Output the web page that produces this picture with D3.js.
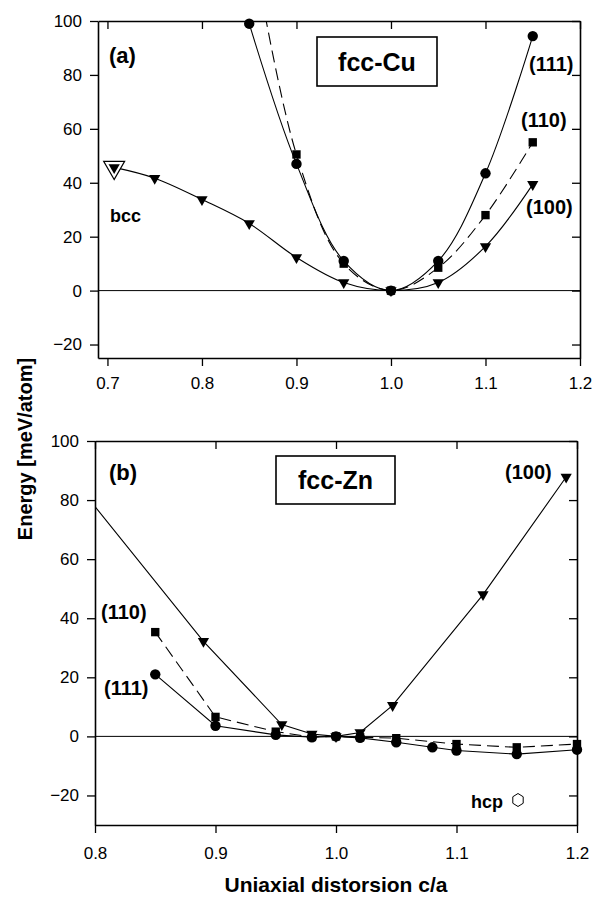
<!DOCTYPE html>
<html>
<head>
<meta charset="utf-8">
<script src="https://cdn.jsdelivr.net/npm/d3@7"></script>
<style>
  body { margin: 0; background: #fff; }
  text { font-family: "Liberation Sans", Arial, sans-serif; }
</style>
</head>
<body>
<div id="chart"></div>
<script>
var W = 594, H = 897;

// panel (a): fcc-Cu
var cuX111 = [0.85, 0.9, 0.95, 1.0, 1.05, 1.1, 1.15];
var cuY111 = [99, 47, 11, 0, 11, 43.5, 94.4];
var cuX110 = [0.85, 0.9, 0.95, 1.0, 1.05, 1.1, 1.15];
var cuY110 = [135, 50.5, 10, 0, 8.5, 28, 55];
var cuX100 = [0.7071, 0.75, 0.8, 0.85, 0.9, 0.95, 1.0, 1.05, 1.1, 1.15];
var cuY100 = [45.7, 41.7, 33.8, 24.9, 12.3, 3, 0, 3, 16.4, 39.4];

// panel (b): fcc-Zn
var znX111 = [0.85, 0.9, 0.95, 0.98, 1.0, 1.02, 1.05, 1.08, 1.1, 1.15, 1.2];
var znY111 = [21, 3.6, 0.5, -0.3, 0, -0.5, -2, -3.7, -4.8, -6, -4.5];
var znX110 = [0.85, 0.9, 0.95, 0.98, 1.0, 1.02, 1.05, 1.1, 1.15, 1.2];
var znY110 = [35.3, 6.6, 1.6, -0.2, 0, -0.3, -0.6, -2.6, -3.7, -2.6];
var znX100 = [0.77, 0.89, 0.955, 0.98, 1.0, 1.02, 1.047, 1.122, 1.191];
var znY100 = [93, 32.2, 4, 0.8, 0, 1.3, 10.5, 48, 87.8];

var ticksCuX = [0.7, 0.8, 0.9, 1.0, 1.1, 1.2];
var ticksZnX = [0.8, 0.9, 1.0, 1.1, 1.2];
var ticksY = [-20, 0, 20, 40, 60, 80, 100];

function zip(xs, ys) { return xs.map(function(x, i) { return {x: x, y: ys[i]}; }); }

var svg = d3.select("#chart").append("svg")
  .attr("width", W).attr("height", H);

function panel(opt) {
  var x = d3.scaleLinear().domain(opt.xd).range([opt.l, opt.r]);
  var y = d3.scaleLinear().domain(opt.yd).range([opt.b, opt.t]);
  var g = svg.append("g");

  g.append("clipPath").attr("id", opt.id)
    .append("rect").attr("x", opt.l).attr("y", opt.t)
    .attr("width", opt.r - opt.l).attr("height", opt.b - opt.t);

  // zero line
  g.append("line")
    .attr("x1", opt.l).attr("x2", opt.r)
    .attr("y1", y(0)).attr("y2", y(0))
    .attr("stroke", "#000").attr("stroke-width", 1);

  var line = d3.line().x(function(d) { return x(d.x); }).y(function(d) { return y(d.y); })
    .curve(opt.curve);

  opt.series.forEach(function(s) {
    g.append("path")
      .attr("d", line(s.data))
      .attr("clip-path", "url(#" + opt.id + ")")
      .attr("fill", "none").attr("stroke", "#000").attr("stroke-width", 1.1)
      .attr("stroke-dasharray", s.dash ? "12,6" : null);
  });

  // big open bcc marker goes under the points
  if (opt.open) {
    g.append("path")
      .attr("d", d3.symbol().type(d3.symbolTriangle).size(190)())
      .attr("transform", "translate(" + x(opt.open.x) + "," + y(opt.open.y) + ") rotate(180)")
      .attr("fill", "#fff").attr("stroke", "#000").attr("stroke-width", 1.2);
  }

  opt.series.forEach(function(s) {
    var pts = s.data.filter(function(d) {
      return d.x >= opt.xd[0] && d.x <= opt.xd[1] && d.y <= opt.yd[1] + 1;
    });
    var sym = d3.symbol().type(s.type).size(s.size);
    g.selectAll(null).data(pts).enter().append("path")
      .attr("d", sym)
      .attr("transform", function(d) {
        return "translate(" + x(d.x) + "," + y(d.y) + ")" + (s.type === d3.symbolTriangle ? " rotate(180)" : "");
      })
      .attr("fill", "#000");
  });

  // frame axes
  var ax = function(a) {
    a.selectAll(".domain").attr("stroke-width", 1.6);
    a.selectAll(".tick line").attr("stroke-width", 1.3);
    a.selectAll("text").attr("font-size", 17).attr("fill", "#000");
  };
  g.append("g").attr("transform", "translate(0," + opt.b + ")")
    .call(d3.axisBottom(x).tickValues(opt.xt).tickFormat(d3.format(".1f")).tickSize(8).tickSizeOuter(0).tickPadding(opt.xpad))
    .call(ax);
  g.append("g").attr("transform", "translate(" + opt.l + ",0)")
    .call(d3.axisLeft(y).tickValues(ticksY).tickSize(8).tickSizeOuter(0).tickPadding(8))
    .call(ax);
  g.append("g").attr("transform", "translate(0," + opt.t + ")")
    .call(d3.axisTop(x).tickValues(opt.xt).tickSize(-8).tickSizeOuter(0).tickFormat(""))
    .call(ax);
  g.append("g").attr("transform", "translate(" + opt.r + ",0)")
    .call(d3.axisRight(y).tickValues(ticksY).tickSize(-8).tickSizeOuter(0).tickFormat(""))
    .call(ax);

  return {x: x, y: y, g: g};
}

var pa = panel({
  id: "clipA", l: 98, r: 580, t: 21, b: 358,
  xd: [0.69, 1.2], yd: [-25, 100], xt: ticksCuX, xpad: 11,
  curve: d3.curveCatmullRom,
  open: {x: cuX100[0], y: cuY100[0]},
  series: [
    {data: zip(cuX100, cuY100), type: d3.symbolTriangle, size: 55},
    {data: zip(cuX110, cuY110), type: d3.symbolSquare, size: 70, dash: true},
    {data: zip(cuX111, cuY111), type: d3.symbolCircle, size: 85}
  ]
});

var pb = panel({
  id: "clipB", l: 95, r: 577, t: 441, b: 825,
  xd: [0.8, 1.2], yd: [-30, 100], xt: ticksZnX, xpad: 14,
  curve: d3.curveLinear,
  series: [
    {data: zip(znX100, znY100), type: d3.symbolTriangle, size: 55},
    {data: zip(znX110, znY110), type: d3.symbolSquare, size: 70, dash: true},
    {data: zip(znX111, znY111), type: d3.symbolCircle, size: 85}
  ]
});

function label(x, y, t, size, anchor) {
  svg.append("text").attr("x", x).attr("y", y)
    .attr("font-size", size).attr("font-weight", "bold")
    .attr("text-anchor", anchor || "start").attr("fill", "#000").text(t);
}

function box(x, y, w, h, t) {
  svg.append("rect").attr("x", x).attr("y", y).attr("width", w).attr("height", h)
    .attr("fill", "#fff").attr("stroke", "#000").attr("stroke-width", 1.6);
  label(x + w / 2, y + h / 2 + 9, t, 25, "middle");
}

label(109, 63, "(a)", 22);
label(110, 222, "bcc", 18);
box(317, 37, 120, 49, "fcc-Cu");
label(529, 71, "(111)", 20);
label(521, 127, "(110)", 20);
label(526, 214, "(100)", 20);

label(109, 480, "(b)", 22);
box(276, 456, 119, 48, "fcc-Zn");
label(505, 479, "(100)", 20);
label(101, 619, "(110)", 20);
label(104, 695, "(111)", 20);
label(471, 808, "hcp", 18);

// hcp hexagon
var hex = d3.range(6).map(function(i) {
  var a = Math.PI / 3 * i - Math.PI / 2;
  return [518 + 6 * Math.cos(a), 800 + 6.5 * Math.sin(a)];
});
svg.append("path").attr("d", "M" + hex.join("L") + "Z")
  .attr("fill", "none").attr("stroke", "#000").attr("stroke-width", 1);

// axis titles
svg.append("text").attr("transform", "translate(32,449) rotate(-90)")
  .attr("text-anchor", "middle").attr("font-size", 20).attr("font-weight", "bold")
  .text("Energy [meV/atom]");
svg.append("text").attr("x", 336).attr("y", 892)
  .attr("text-anchor", "middle").attr("font-size", 21).attr("font-weight", "bold")
  .text("Uniaxial distorsion c/a");
</script>
</body>
</html>
